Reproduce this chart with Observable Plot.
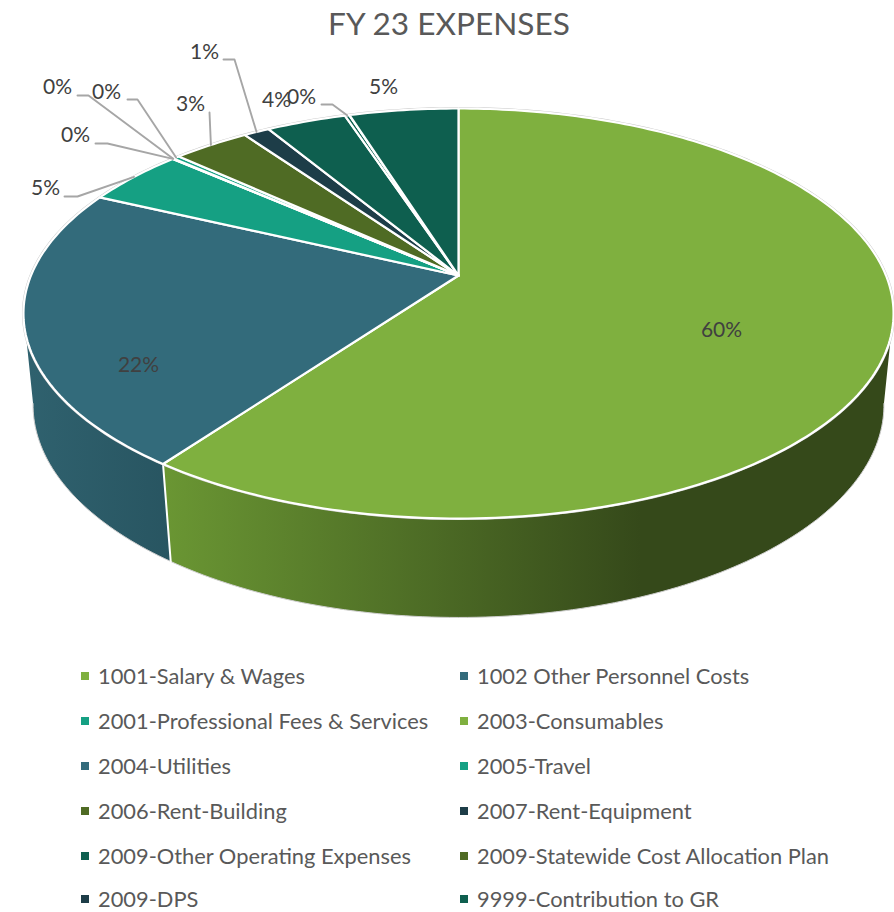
<!DOCTYPE html>
<html>
<head>
<meta charset="utf-8">
<script src="https://cdn.jsdelivr.net/npm/d3@7"></script>
<script src="https://cdn.jsdelivr.net/npm/@observablehq/plot@0.6"></script>
<style>
html,body{margin:0;padding:0;background:#fff;width:894px;height:912px;overflow:hidden;font-family:Lato,sans-serif}
#title{height:44px;line-height:46px;text-align:center;font-size:31.6px;color:#595959;box-sizing:border-box;position:relative;left:2px}
#chart{height:596px}
#chart svg{display:block}
#legend{position:absolute;top:653px;left:0;width:894px;height:259px}
.item{position:absolute;height:21px;line-height:21px;font-size:21.85px;color:#595959;white-space:nowrap}
.sw{position:absolute;top:6.5px;left:-17px;width:8px;height:8px}
</style>
</head>
<body>
<div id="title">FY 23 EXPENSES</div>
<div id="chart"></div>
<div id="legend"></div>
<script>
const categories = ["1001-Salary & Wages","1002 Other Personnel Costs","2001-Professional Fees & Services","2003-Consumables","2004-Utilities","2005-Travel","2006-Rent-Building","2007-Rent-Equipment","2009-Other Operating Expenses","2009-Statewide Cost Allocation Plan","2009-DPS","9999-Contribution to GR"];
const values = [60, 22, 4.5, 0.02, 0.02, 0.3, 3.4, 1.16, 3.55, 0.2, 0.01, 4.85];
const labels = ["60%","22%","5%","0%","0%","0%","3%","1%","4%","0%","","5%"];
const colors = ["#7fb03f","#336b7b","#15a083","#7fb03f","#336b7b","#15a083","#4f6b24","#1d3d48","#0e5f4f","#4f6b24","#1d3d48","#0e5f4f"];
// the hairline slices read as dark teal on the pie face, whatever their legend colour
const faceColors = ["#7fb03f","#336b7b","#15a083","#7fb03f","#336b7b","#15a083","#4f6b24","#1d3d48","#0e5f4f","#0e5f4f","#0e5f4f","#0e5f4f"];
// layout: label centres on the 894-wide page, null = no leader, elbow = where the leader bends
const labelAt = [[721,330],[138,365],[45,188],[75,135],[57,87],[106,92],[190,104],[204,52],[276,100],[301,97],[0,0],[383,87]];
const leaderFrom = [null,null,[64,196],[95,143],[77,95],[127,99],[209,112],[223,59],null,[321,104],null,null];
const elbow = [null,null,[77,196],[107,143],[88,95],[137,99],null,[234,59],null,[332,104],null,null];

const cx = 458;
const topFace = {k:427.5, a:-147, b:275, c:0.1854};
const baseFace = {k:418.5, a:-139.7, b:366.2, c:0.18};
function project(f, deg){
  const t = deg*Math.PI/180, u = Math.sin(t), v = Math.cos(t), w = 1 + f.c*v;
  return {x: cx + f.k*u/w, y: (f.a*v + f.b)/w};
}
function arc(f, d0, d1){
  const n = Math.max(1, Math.ceil(Math.abs(d1-d0)));
  return d3.range(n+1).map(i => project(f, d0 + (d1-d0)*i/n));
}
const total = d3.sum(values);
let run = 0;
const spans = values.map(v => { const s = run; run += v; return [s/total*360, run/total*360]; });

const topRows = spans.flatMap(([a,b],i) =>
  [{x:cx, y:topFace.b, slice:i, color:faceColors[i]}, ...arc(topFace,a,b).map(p => ({...p, slice:i, color:faceColors[i]}))]);

const split = spans[0][1];           // first / second slice boundary
const sideGreen = [...arc(topFace,100,split), ...arc(baseFace,split,100)];
const sideBlue  = [...arc(topFace,split,260), ...arc(baseFace,260,split)];
const divider = [project(topFace,split), project(baseFace,split)];
const rim = arc(topFace,0,360);
const baseRim = arc(baseFace,100,260);

const mid = i => (spans[i][0]+spans[i][1])/2;
const leaderRows = leaderFrom.flatMap((p,i) => {
  if (!p) return [];
  const pts = [{x:p[0],y:p[1]}];
  if (elbow[i]) pts.push({x:elbow[i][0],y:elbow[i][1]});
  pts.push(project(topFace, mid(i)));
  return pts.map(q => ({...q, leader:i}));
});
const labelRows = labels.map((t,i) => ({t, x:labelAt[i][0], y:labelAt[i][1]})).filter(d => d.t);

function gradients(index, scales){
  const defs = d3.create("svg:defs");
  const add = (id, x1, x2, stops) => {
    const g = defs.append("linearGradient").attr("id",id).attr("gradientUnits","userSpaceOnUse")
      .attr("x1",scales.x(x1)).attr("x2",scales.x(x2)).attr("y1",0).attr("y2",0);
    stops.forEach(([o,c]) => g.append("stop").attr("offset",o).attr("stop-color",c));
  };
  add("sideG",165,640,[[0,"#6a9633"],[1,"#35491a"]]);
  add("sideB",30,170,[[0,"#2f616e"],[1,"#285561"]]);
  return defs.node();
}

const plot = Plot.plot({
  width:894, height:596, margin:0,
  x:{domain:[0,894], range:[0,894], axis:null},
  y:{domain:[44,640], range:[0,596], axis:null},
  color:{type:"identity"},
  style:{background:"#fff", overflow:"visible"},
  marks:[
    gradients,
    Plot.line(sideGreen,{x:"x",y:"y",fill:"url(#sideG)",stroke:"none",curve:"linear-closed"}),
    Plot.line(sideBlue,{x:"x",y:"y",fill:"url(#sideB)",stroke:"none",curve:"linear-closed"}),
    Plot.line(baseRim,{x:"x",y:"y",stroke:"#cfcfcf",strokeWidth:1}),
    Plot.line(divider,{x:"x",y:"y",stroke:"#fff",strokeWidth:2}),
    Plot.line(rim,{x:"x",y:"y",stroke:"#c8c8c8",strokeWidth:3}),
    Plot.line(topRows,{x:"x",y:"y",z:"slice",fill:"color",stroke:"#fff",strokeWidth:2.2,strokeLinejoin:"round",curve:"linear-closed"}),
    Plot.line(leaderRows,{x:"x",y:"y",z:"leader",stroke:"#a6a6a6",strokeWidth:1.9}),
    Plot.text(labelRows,{x:"x",y:"y",text:"t",fill:"#404040",fontSize:21,fontFamily:"Lato, sans-serif"})
  ]
});
document.getElementById("chart").appendChild(plot);

const legend = document.getElementById("legend");
categories.forEach((c,i) => {
  const col = i%2, row = Math.floor(i/2);
  const el = document.createElement("div");
  el.className = "item";
  el.style.left = (col ? 477 : 98) + "px";
  el.style.top = (row*45 + (row === 5 ? 10 : 12)) + "px";
  el.textContent = c;
  const sw = document.createElement("span");
  sw.className = "sw";
  sw.style.background = colors[i];
  el.appendChild(sw);
  legend.appendChild(el);
});
</script>
</body>
</html>
